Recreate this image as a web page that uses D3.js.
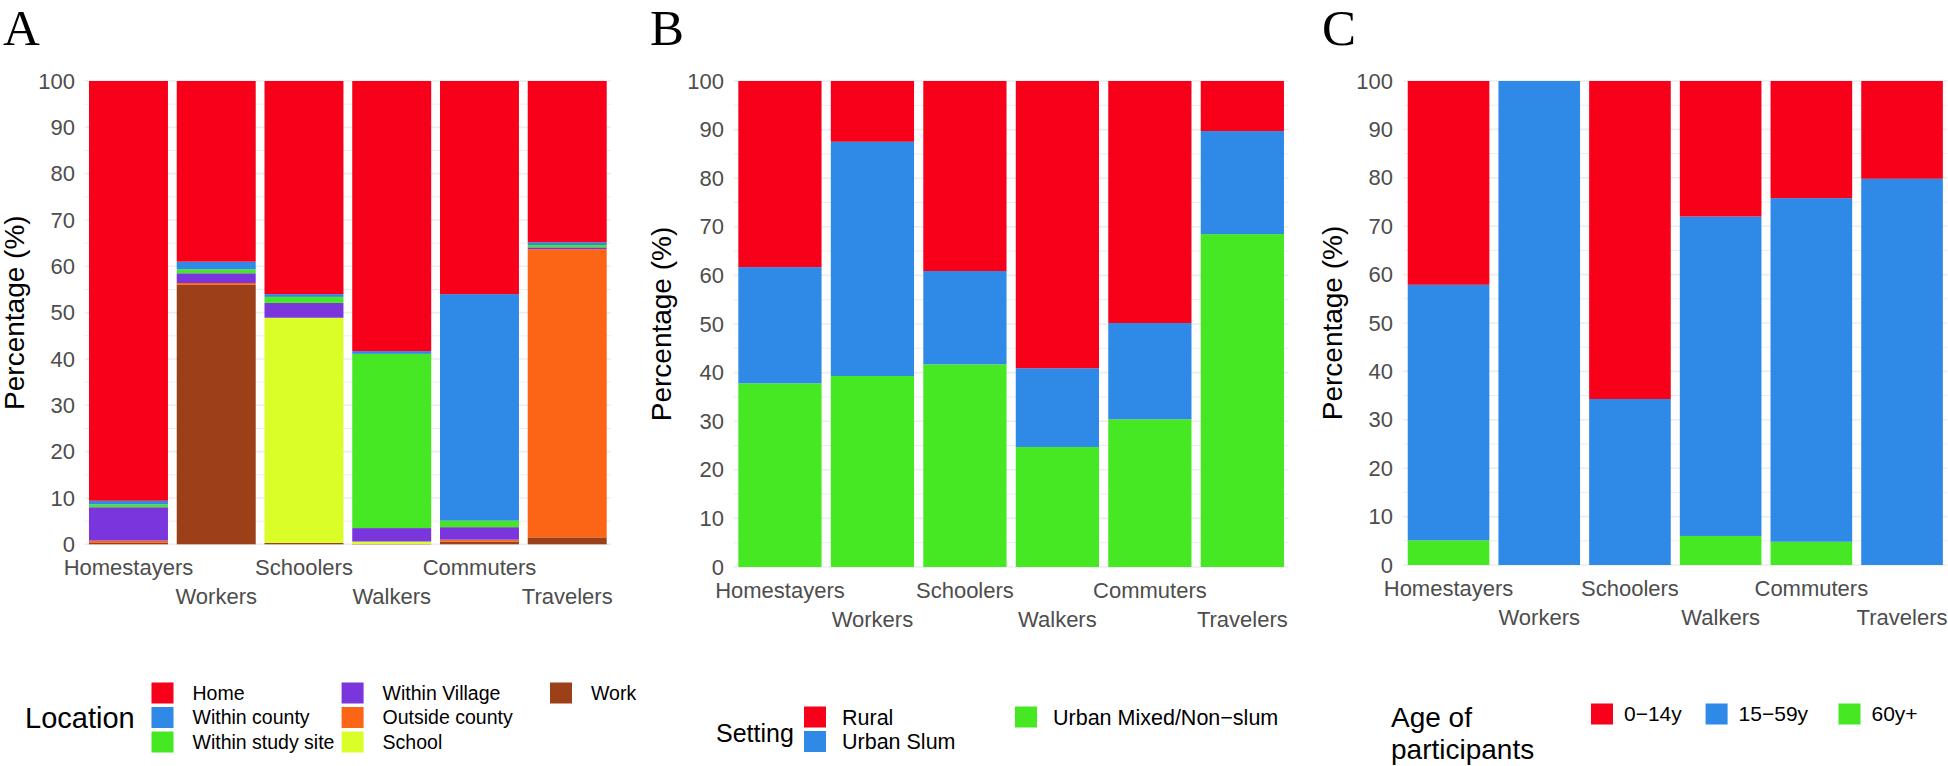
<!DOCTYPE html>
<html>
<head>
<meta charset="utf-8">
<script src="https://cdn.jsdelivr.net/npm/d3@7"></script>
<style>
  body { margin: 0; background: #fff; }
  svg { display: block; font-family: "Liberation Sans", Arial, sans-serif; }
</style>
</head>
<body>
<svg id="chart" width="1948" height="766"></svg>
<script>
// groups on the x axis (same for all three panels)
const groups = ["Homestayers", "Workers", "Schoolers", "Walkers", "Commuters", "Travelers"];
const yTicks = [0, 10, 20, 30, 40, 50, 60, 70, 80, 90, 100];

// panel A - location
const locationKeys = ["Home", "Within county", "Within study site", "Within Village", "Outside county", "School", "Work"];
const locHome        = [90.6, 39.0, 46.0, 58.3, 46.0, 34.8];
const locCounty      = [0.8, 1.65, 0.6, 0.6, 48.9, 0.6];
const locStudySite   = [0.6, 0.85, 1.3, 37.6, 1.4, 0.5];
const locVillage     = [7.2, 2.1, 3.2, 2.9, 2.7, 0.4];
const locOutside     = [0.5, 0.4, 0.0, 0.0, 0.4, 62.2];
const locSchool      = [0.0, 0.0, 48.6, 0.5, 0.0, 0.0];
const locWork        = [0.3, 56.0, 0.3, 0.1, 0.6, 1.5];
const locationColors = ["#F6001A", "#2E8AE6", "#45E823", "#7A35DD", "#FC6516", "#D9FE28", "#9C401A"];

// panel B - setting
const settingKeys = ["Rural", "Urban Slum", "Urban Mixed/Non\u2212slum"];
const setRural = [38.3, 12.5, 39.1, 59.1, 49.8, 10.3];
const setSlum  = [23.9, 48.2, 19.2, 16.2, 19.8, 21.2];
const setMixed = [37.8, 39.3, 41.7, 24.7, 30.4, 68.5];
const settingColors = ["#F6001A", "#2E8AE6", "#45E823"];

// panel C - age
const ageKeys = ["0\u221214y", "15\u221259y", "60y+"];
const age0to14  = [42.1, 0.0, 65.7, 28.0, 24.2, 20.2];
const age15to59 = [52.8, 100.0, 34.3, 66.0, 71.0, 79.8];
const age60plus = [5.1, 0.0, 0.0, 6.0, 4.8, 0.0];
const ageColors = ["#F6001A", "#2E8AE6", "#45E823"];

const svg = d3.select("#chart");
svg.append("rect").attr("width", 1948).attr("height", 766).attr("fill", "#fff");

function rows(keys, series) {
  // build one object per group for d3.stack
  return groups.map((g, i) => {
    const o = { group: g };
    keys.forEach((k, j) => { o[k] = series[j][i]; });
    return o;
  });
}

function drawPanel(p) {
  const g = svg.append("g");
  const x = d3.scaleBand().domain(groups).range(p.xRange).paddingInner(0.1).paddingOuter(0.05);
  const y = d3.scaleLinear().domain([0, 100]).range([p.y0, p.y1]);
  const color = d3.scaleOrdinal().domain(p.keys).range(p.colors);

  // grid lines (major + minor)
  g.append("g").selectAll("line")
    .data(d3.range(0, 101, 5))
    .join("line")
    .attr("x1", p.xRange[0]).attr("x2", p.xRange[1])
    .attr("y1", d => y(d)).attr("y2", d => y(d))
    .attr("stroke", "#EBEDED")
    .attr("stroke-width", d => d % 10 === 0 ? 1.6 : 1);

  // stacks: first key ends up on top, like ggplot
  const stack = d3.stack().keys(p.keys.slice().reverse());
  const layers = stack(rows(p.keys, p.series));

  g.append("g").selectAll("g")
    .data(layers)
    .join("g")
    .attr("fill", d => color(d.key))
    .selectAll("rect")
    .data(d => d)
    .join("rect")
    .attr("x", d => x(d.data.group))
    .attr("width", x.bandwidth())
    .attr("y", d => y(d[1]))
    .attr("height", d => y(d[0]) - y(d[1]));

  // y axis labels
  const yAxis = d3.axisLeft(y).tickValues(yTicks).tickSize(0).tickPadding(0);
  const ya = g.append("g").attr("transform", `translate(${p.yLabelX},0)`).call(yAxis);
  ya.select(".domain").remove();
  ya.selectAll("text").attr("font-size", 22).attr("fill", "#4D4D4D")
    .attr("font-family", "Liberation Sans, Arial, sans-serif");

  // x axis labels, dodged on two rows
  g.append("g").selectAll("text")
    .data(groups)
    .join("text")
    .attr("x", d => x(d) + x.bandwidth() / 2)
    .attr("y", (d, i) => p.y0 + (i % 2 === 0 ? 31 : 60))
    .attr("text-anchor", "middle")
    .attr("font-size", 22)
    .attr("fill", "#4D4D4D")
    .text(d => d);

  // y title
  g.append("text")
    .attr("transform", `translate(${p.titleX},${(p.y0 + p.y1) / 2}) rotate(-90)`)
    .attr("text-anchor", "middle")
    .attr("font-size", 28)
    .attr("fill", "#000")
    .text("Percentage (%)");

  // panel letter
  g.append("text")
    .attr("x", p.letterX).attr("y", 45)
    .attr("font-family", "Liberation Serif, Times New Roman, serif")
    .attr("font-size", 51)
    .text(p.letter);

  // legend
  const lg = g.append("g");
  lg.selectAll("text.title")
    .data(p.legendTitle)
    .join("text")
    .attr("class", "title")
    .attr("x", p.legendTitleX)
    .attr("y", (d, i) => p.legendTitleY + i * 32)
    .attr("dy", "0.35em")
    .attr("font-size", p.legendTitleSize)
    .text(d => d);

  const items = lg.selectAll("g.item")
    .data(p.keys)
    .join("g")
    .attr("class", "item")
    .attr("transform", (d, i) => {
      const col = Math.floor(i / p.legendRows);
      const row = i % p.legendRows;
      return `translate(${p.legendCols[col]},${p.legendRowY + row * 24.5})`;
    });
  items.append("rect")
    .attr("x", 0).attr("y", -10.5)
    .attr("width", 22).attr("height", 21)
    .attr("fill", d => color(d));
  items.append("text")
    .attr("x", p.legendTextDx).attr("dy", "0.35em")
    .attr("font-size", p.legendTextSize)
    .text(d => d);
}

drawPanel({
  letter: "A", letterX: 3,
  keys: locationKeys, colors: locationColors,
  series: [locHome, locCounty, locStudySite, locVillage, locOutside, locSchool, locWork],
  xRange: [84.6, 611.1], y0: 544.3, y1: 81,
  yLabelX: 75, titleX: 24,
  legendTitle: ["Location"], legendTitleX: 25, legendTitleY: 718, legendTitleSize: 29,
  legendRows: 3, legendCols: [151.5, 341.6, 550], legendRowY: 693, legendTextDx: 41, legendTextSize: 19.5
});

drawPanel({
  letter: "B", letterX: 650,
  keys: settingKeys, colors: settingColors,
  series: [setRural, setSlum, setMixed],
  xRange: [733.7, 1288.6], y0: 567, y1: 81,
  yLabelX: 724, titleX: 671,
  legendTitle: ["Setting"], legendTitleX: 716, legendTitleY: 733, legendTitleSize: 25,
  legendRows: 2, legendCols: [804, 1015], legendRowY: 717, legendTextDx: 38, legendTextSize: 21.5
});

drawPanel({
  letter: "C", letterX: 1322,
  keys: ageKeys, colors: ageColors,
  series: [age0to14, age15to59, age60plus],
  xRange: [1403.2, 1947.4], y0: 565, y1: 81,
  yLabelX: 1393, titleX: 1342,
  legendTitle: ["Age of", "participants"], legendTitleX: 1391, legendTitleY: 717, legendTitleSize: 28,
  legendRows: 1, legendCols: [1591, 1705.6, 1838.5], legendRowY: 714, legendTextDx: 33, legendTextSize: 21
});
</script>
</body>
</html>
